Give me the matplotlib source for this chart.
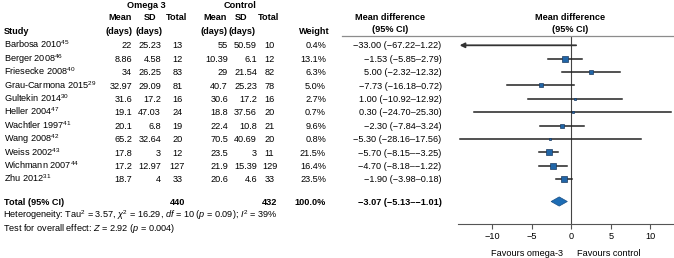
import numpy as np
import matplotlib
matplotlib.use('Agg')
import matplotlib.pyplot as plt
from matplotlib.lines import Line2D

plt.rcParams['font.family'] = ['Liberation Sans', 'DejaVu Sans']
plt.rcParams['mathtext.fontset'] = 'custom'
plt.rcParams['mathtext.rm'] = 'Liberation Sans'
plt.rcParams['mathtext.it'] = 'Liberation Sans:italic'
plt.rcParams['mathtext.bf'] = 'Liberation Sans:bold'

# data
studies = ['Barbosa 2010', 'Berger 2008', 'Friesecke 2008', 'Grau-Carmona 2015',
           'Gultekin 2014', 'Heller 2004', 'Wachtler 1997', 'Wang 2008',
           'Weiss 2002', 'Wichmann 2007', 'Zhu 2012']
refs = ['45', '46', '40', '29', '30', '47', '41', '42', '43', '44', '31']
om_mean = ['22', '8.86', '34', '32.97', '31.6', '19.1', '20.1', '65.2', '17.8', '17.2', '18.7']
om_sd = ['25.23', '4.58', '26.25', '29.09', '17.2', '47.03', '6.8', '32.64', '3', '12.97', '4']
om_n = [13, 12, 83, 81, 16, 24, 19, 20, 12, 127, 33]
ct_mean = ['55', '10.39', '29', '40.7', '30.6', '18.8', '22.4', '70.5', '23.5', '21.9', '20.6']
ct_sd = ['50.59', '6.1', '21.54', '25.23', '17.2', '37.56', '10.8', '40.69', '3', '15.39', '4.6']
ct_n = [10, 12, 82, 78, 16, 20, 21, 20, 11, 129, 33]
weight = [0.4, 13.1, 6.3, 5.0, 2.7, 0.7, 9.6, 0.8, 21.5, 16.4, 23.5]
md = [-33.00, -1.53, 5.00, -7.73, 1.00, 0.30, -2.30, -5.30, -5.70, -4.70, -1.90]
lo = [-67.22, -5.85, -2.32, -16.18, -10.92, -24.70, -7.84, -28.16, -8.15, -8.18, -3.98]
hi = [1.22, 2.79, 12.32, 0.72, 12.92, 25.30, 3.24, 17.56, -3.25, -1.22, 0.18]
tot_md, tot_lo, tot_hi = -3.07, -5.13, -1.01
tot_om_n, tot_ct_n = 440, 432

# the original axis is labelled at half the data scale
tick_pos = [-20, -10, 0, 10, 20]
tick_lab = ['\u221210', '\u22125', '0', '5', '10']

W, H = 674, 258
FS = 6.55
fig = plt.figure(figsize=(W / 100, H / 100), dpi=100)


def fmt(v):
    return f'{v:.2f}'.replace('-', '\u2212')


def put(x, y, s, ha='left', bold=False):
    fig.text(x / W, 1 - (y + 3.2) / H, s, ha=ha, va='baseline', fontsize=FS,
             fontweight='bold' if bold else 'normal')


# headers
put(146, 4.5, 'Omega 3', 'center', True)
put(240, 4.5, 'Control', 'center', True)
for x, ha, s in [(132, 'right', 'Mean'), (150, 'center', 'SD'), (177, 'center', 'Total'),
                 (227, 'right', 'Mean'), (241.5, 'center', 'SD'), (269, 'center', 'Total')]:
    put(x, 16.7, s, ha, True)
for x, ha in [(132, 'right'), (148.5, 'center'), (227, 'right'), (242, 'center')]:
    put(x, 30.5, '(days)', ha, True)
put(4, 30.5, 'Study', bold=True)
put(314, 30.5, 'Weight', 'center', True)
put(390, 16.7, 'Mean difference', 'center', True)
put(390, 29, '(95% CI)', 'center', True)
put(570, 16.7, 'Mean difference', 'center', True)
put(570, 29, '(95% CI)', 'center', True)
fig.add_artist(Line2D([342 / W, 1], [1 - 36 / H] * 2, color='#8c8c8c', lw=0.9))

row_y = 45.3 + 13.38 * np.arange(len(studies))
tot_y = 201.5

for i, y in enumerate(row_y):
    put(4, y, studies[i] + '$^{' + refs[i] + '}$')
    put(132, y, om_mean[i], 'right')
    put(161, y, om_sd[i], 'right')
    put(177.5, y, str(om_n[i]), 'center')
    put(228, y, ct_mean[i], 'right')
    put(257, y, ct_sd[i], 'right')
    put(269.5, y, str(ct_n[i]), 'center')
    put(326, y, f'{weight[i]:.1f}%', 'right')
    put(441.5, y, f'{fmt(md[i])} ({fmt(lo[i])}\u2013{fmt(hi[i])})', 'right')

put(4, tot_y, 'Total (95% CI)', bold=True)
put(177.5, tot_y, str(tot_om_n), 'center', True)
put(269.5, tot_y, str(tot_ct_n), 'center', True)
put(326, tot_y, '100.0%', 'right', True)
put(441.5, tot_y, f'{fmt(tot_md)} ({fmt(tot_lo)}\u2013{fmt(tot_hi)})', 'right', True)
put(3, 214.3, 'Heterogeneity: Tau$^2$ = 3.57, $\\chi^2$ = 16.29, $df$ = 10 ($p$ = 0.09); $I^2$ = 39%')
put(3, 227.6, 'Test for overall effect: $Z$ = 2.92 ($p$ = 0.004)')

# forest panel
ax = fig.add_axes([458 / W, 1 - 224 / H, (674 - 458) / W, (224 - 36) / H])
ax.set_ylim(224, 36)
ax.set_xlim(-28.7, 26.0)
for s in ['left', 'top', 'right']:
    ax.spines[s].set_visible(False)
ax.spines['bottom'].set_color('#555555')
ax.spines['bottom'].set_linewidth(0.8)
ax.set_yticks([])
ax.set_xticks(tick_pos)
ax.set_xticklabels(tick_lab)
ax.tick_params(axis='x', labelsize=FS, length=3.5, width=0.8, color='#555555', pad=2.5)
ax.axvline(0, color='#444444', lw=0.8, zorder=1)

xmin = ax.get_xlim()[0]
for i, y in enumerate(row_y):
    if lo[i] < xmin:
        ax.annotate('', xy=(xmin + 0.4, y), xytext=(hi[i], y),
                    arrowprops=dict(arrowstyle='-|>', lw=1.3, color='#333333',
                                    mutation_scale=7, shrinkA=0, shrinkB=0))
    else:
        ax.plot([lo[i], hi[i]], [y, y], color='#222222', lw=1.1, zorder=2)
    if md[i] > xmin:
        ms = 0.72 * (1.0 + 1.2 * np.sqrt(weight[i]))
        ax.plot(md[i], y, marker='s', ms=ms, mfc='#2166a8', mec='#1b3a60',
                mew=0.5, zorder=3)

ax.fill([tot_lo, tot_md, tot_hi, tot_md], [tot_y, tot_y - 4.6, tot_y, tot_y + 4.6],
        color='#1d6db5', ec='#1a4f85', lw=0.5, zorder=3)

fig.text(527 / W, 1 - (252.7 + 3.2) / H, 'Favours omega-3', ha='center', va='baseline', fontsize=FS)
fig.text(609 / W, 1 - (252.7 + 3.2) / H, 'Favours control', ha='center', va='baseline', fontsize=FS)

fig.savefig('out.png', dpi=100)
